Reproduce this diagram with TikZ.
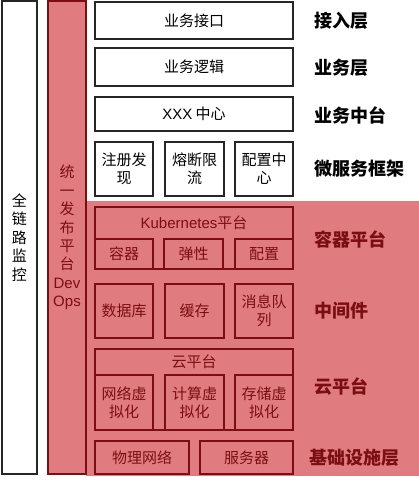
\documentclass[tikz,border=0pt]{standalone}
\usepackage{fontspec}
\setmainfont{Noto Sans CJK SC}
\newfontfamily\lat{Liberation Sans}
\definecolor{rfill}{HTML}{E07C80}
\definecolor{dred}{HTML}{7A0E12}
\begin{document}
\begin{tikzpicture}[x=1pt,y=-1pt,
  box/.style={draw=black!85, fill=white, line width=1.3pt, inner sep=1pt, align=center,
    font=\fontsize{15}{18}\selectfont},
  rbox/.style={draw=dred, line width=1.3pt, inner sep=1pt, align=center, text=dred,
    font=\fontsize{15}{18}\selectfont},
  lab/.style={anchor=west, font=\fontsize{18}{20}\selectfont\bfseries},
  rlab/.style={lab, text=dred},
  col/.style={line width=1.3pt, align=center, font=\fontsize{15}{18.4}\selectfont}
]
\useasboundingbox (0,0) rectangle (419,480);
% red background region
\fill[rfill] (86,201) rectangle (419,476);
% left columns
\node[col, draw=black!85, fill=white, minimum width=35, minimum height=473] (qll) at (19.5,237.5) {全\\链\\路\\监\\控};
\node[col, draw=dred, fill=rfill, text=dred, minimum width=38, minimum height=473] (devops) at (67,237.5) {统\\一\\发\\布\\平\\台\\{\lat Dev}\\{\lat Ops}};
% upper white boxes
\node[box, minimum width=198, minimum height=37] (jk) at (194,20.5) {业务接口};
\node[box, minimum width=198, minimum height=38] (lj) at (194,67) {业务逻辑};
\node[box, minimum width=198, minimum height=34] (zx) at (194,114) {{\lat XXX} 中心};
\node[box, minimum width=58, minimum height=54] (zc) at (124,169) {注册发\\现};
\node[box, minimum width=59, minimum height=54] (rd) at (194.5,169) {熔断限\\流};
\node[box, minimum width=58, minimum height=54] (pz) at (264,169) {配置中\\心};
% container platform
\node[rbox, minimum width=198, minimum height=62] (k8s) at (194,238) {};
\node[text=dred, font=\fontsize{15}{18}\selectfont] (k8st) at (194,222.5) {{\lat Kubernetes}平台};
\node[rbox, minimum width=58, minimum height=30] (rq) at (124,254) {容器};
\node[rbox, minimum width=59, minimum height=30] (tx) at (193.5,254) {弹性};
\node[rbox, minimum width=58, minimum height=30] (pzk) at (264,254) {配置};
% middleware
\node[rbox, minimum width=58, minimum height=54] (sjk) at (124,311) {数据库};
\node[rbox, minimum width=59, minimum height=54] (hc) at (194.5,311) {缓存};
\node[rbox, minimum width=58, minimum height=54] (xx) at (264,311) {消息队\\列};
% cloud platform
\node[rbox, minimum width=198, minimum height=81] (cloud) at (194,389.5) {};
\node[text=dred, font=\fontsize{15}{18}\selectfont] (cloudt) at (194,361.5) {云平台};
\node[rbox, minimum width=58, minimum height=55] (wl) at (124,402.5) {网络虚\\拟化};
\node[rbox, minimum width=59, minimum height=55] (js) at (194.5,402.5) {计算虚\\拟化};
\node[rbox, minimum width=58, minimum height=55] (cc) at (264,402.5) {存储虚\\拟化};
% infrastructure
\node[rbox, minimum width=94, minimum height=33] (wlwl) at (142,457.5) {物理网络};
\node[rbox, minimum width=93, minimum height=33] (fwq) at (246.5,457.5) {服务器};
% right labels
\node[lab] (l1) at (311,21) {接入层};
\node[lab] (l2) at (311,68) {业务层};
\node[lab] (l3) at (311,115) {业务中台};
\node[lab] (l4) at (311,169) {微服务框架};
\node[rlab] (l5) at (311,239) {容器平台};
\node[rlab] (l6) at (311,311) {中间件};
\node[rlab] (l7) at (311,387) {云平台};
\node[rlab] (l8) at (306,458) {基础设施层};
\end{tikzpicture}
\end{document}
